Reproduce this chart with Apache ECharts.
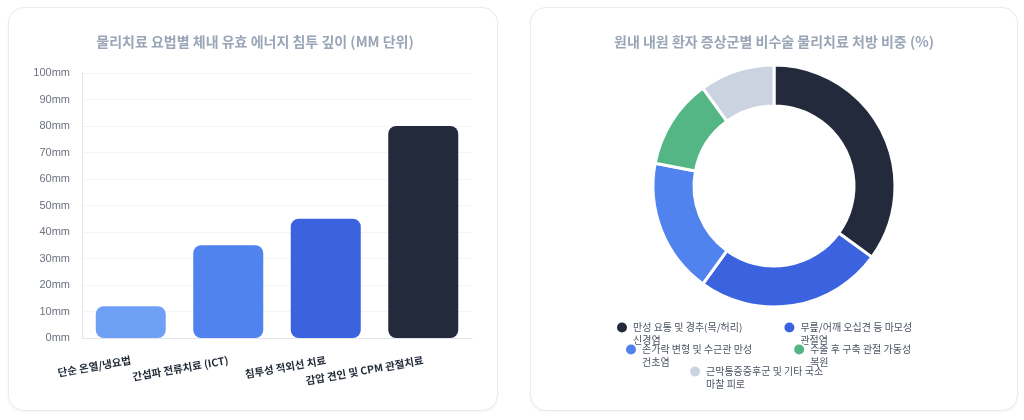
<!DOCTYPE html>
<html>
<head>
<meta charset="utf-8">
<script src="https://cdn.jsdelivr.net/npm/echarts@6/dist/echarts.min.js"></script>
<style>
  html, body { margin: 0; padding: 0; background: #ffffff; }
  .card {
    position: absolute; top: 7px; height: 402px;
    border: 1px solid #e8ebf0; border-radius: 16px; background: #fff;
    box-shadow: 0 1px 3px rgba(15, 23, 42, 0.05);
  }
  #chart { position: absolute; left: 0; top: 0; width: 1024px; height: 420px; }
</style>
</head>
<body>
<div class="card" style="left:8px; width:488px;"></div>
<div class="card" style="left:530px; width:486px;"></div>
<div id="chart"></div>
<script>
// 막대 차트 데이터
const barTitle = '물리치료 요법별 체내 유효 에너지 침투 깊이 (MM 단위)';
const therapyNames = ['단순 온열/냉요법', '간섭파 전류치료 (ICT)', '침투성 적외선 치료', '감압 견인 및 CPM 관절치료'];
const depthValues = [12, 35, 45, 80];
const barColors = ['#6ea0f5', '#5083ee', '#3b63e0', '#232a3b'];

// 도넛 차트 데이터
const pieTitle = '원내 내원 환자 증상군별 비수술 물리치료 처방 비중 (%)';
const symptomNames = [
  '만성 요통 및 경추(목/허리) 신경염',
  '무릎/어깨 오십견 등 마모성 관절염',
  '손가락 변형 및 수근관 만성 건초염',
  '수술 후 구축 관절 가동성 복원',
  '근막통증증후군 및 기타 국소 마찰 피로'
];
const shareValues = [35, 25, 18, 12, 10];
const pieColors = ['#232a3b', '#3b63e0', '#5083ee', '#55b685', '#cbd3e0'];

const font = '"Noto Sans CJK KR", "Noto Sans", sans-serif';
const legendFontSize = 10;

// 범례 글자를 단어 단위로 줄바꿈 (첫 줄이 아이콘 높이에 오도록 빈 줄을 앞에 둔다)
const measureCtx = document.createElement('canvas').getContext('2d');
measureCtx.font = legendFontSize + 'px ' + font;
function wrapWords(text, maxW) {
  const words = text.split(' ');
  const lines = [];
  let cur = '';
  words.forEach(w => {
    const t = cur ? cur + ' ' + w : w;
    if (cur && measureCtx.measureText(t).width > maxW) {
      lines.push(cur);
      cur = w;
    } else {
      cur = t;
    }
  });
  lines.push(cur);
  return ' \n' + lines.join('\n');
}

const chart = echarts.init(document.getElementById('chart'));

function legendRow(names, left, top) {
  return {
    data: names, left: left, top: top, orient: 'horizontal', padding: 0,
    icon: 'circle', itemWidth: 12, itemHeight: 12, itemGap: 40,
    selectedMode: false,
    formatter: name => wrapWords(name, 119),
    textStyle: { fontFamily: font, fontSize: legendFontSize, color: '#4b5563', lineHeight: 13 }
  };
}

chart.setOption({
  title: [
    { text: barTitle, left: 250, top: 30, textAlign: 'center',
      textStyle: { fontFamily: font, fontSize: 14, fontWeight: 'bold', color: '#9aa5b8' } },
    { text: pieTitle, left: 769, top: 30, textAlign: 'center',
      textStyle: { fontFamily: font, fontSize: 14, fontWeight: 'bold', color: '#9aa5b8' } }
  ],
  legend: [
    legendRow(symptomNames.slice(0, 2), 615, 308),
    legendRow(symptomNames.slice(2, 4), 624, 330),
    legendRow(symptomNames.slice(4), 688, 352)
  ],
  grid: { left: 82, top: 73, width: 390, height: 265 },
  xAxis: {
    type: 'category', data: therapyNames,
    axisLine: { lineStyle: { color: '#e3e6eb' } },
    axisTick: { show: false },
    axisLabel: { rotate: 10, margin: 22, interval: 0, fontFamily: font, fontSize: 10.5, fontWeight: 'bold', color: '#1f2937' }
  },
  yAxis: {
    type: 'value', min: 0, max: 100, interval: 10,
    axisLine: { show: true, lineStyle: { color: '#e3e6eb' } },
    axisTick: { show: false },
    splitLine: { lineStyle: { color: '#f2f4f7' } },
    axisLabel: { formatter: '{value}mm', fontFamily: '"Liberation Sans", Arial, sans-serif', fontSize: 11, color: '#6b7280', margin: 12 }
  },
  series: [
    {
      type: 'bar', barWidth: 70, silent: true,
      data: depthValues.map((v, i) => ({ value: v, itemStyle: { color: barColors[i], borderRadius: 8 } }))
    },
    {
      type: 'pie', center: [774, 186], radius: [80, 121], startAngle: 90, clockwise: true,
      label: { show: false }, labelLine: { show: false }, silent: true,
      itemStyle: { borderColor: '#ffffff', borderWidth: 3 },
      data: symptomNames.map((n, i) => ({ name: n, value: shareValues[i], itemStyle: { color: pieColors[i] } }))
    }
  ]
});
</script>
</body>
</html>
